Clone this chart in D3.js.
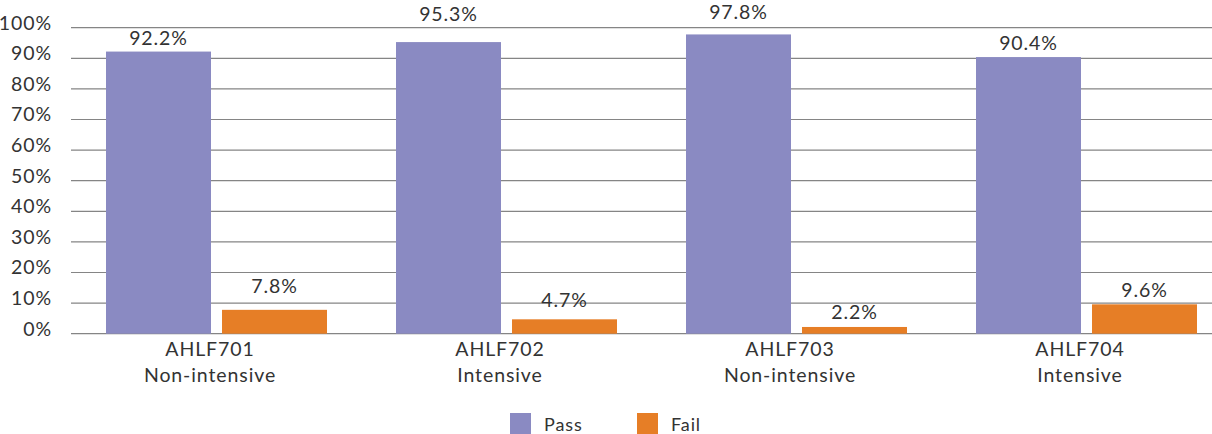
<!DOCTYPE html>
<html>
<head>
<meta charset="utf-8">
<script src="https://cdn.jsdelivr.net/npm/d3@7"></script>
<style>
  html, body { margin: 0; padding: 0; background: #fff; }
  svg { display: block; }
  text { font-family: Lato, "Open Sans", sans-serif; fill: #333; letter-spacing: 0.9px; }
</style>
</head>
<body>
<svg id="chart" width="1212" height="434"></svg>
<script>
// Course codes and delivery modes (two-line axis labels)
const courses = ["AHLF701", "AHLF702", "AHLF703", "AHLF704"];
const modes = ["Non-intensive", "Intensive", "Non-intensive", "Intensive"];
const seriesNames = ["Pass", "Fail"];
const passRates = [92.2, 95.3, 97.8, 90.4];
const failRates = [7.8, 4.7, 2.2, 9.6];
const yTicks = [0, 10, 20, 30, 40, 50, 60, 70, 80, 90, 100];

// Vertical lift (px) of each value label above its bar
const labelLift = { Pass: [7, 21, 15, 7], Fail: [17, 12, 8, 7] };
const colors = { Pass: "#8a8ac2", Fail: "#e67e26" };

const svg = d3.select("#chart");
const W = 1212;

const y = d3.scaleLinear().domain([0, 100]).range([333.7, 27.7]);
const x0 = d3.scaleBand().domain(courses).range([65, 1225]);
const x1 = d3.scaleBand().domain(seriesNames).range([-104, 117]).paddingInner(0.095);

// Gridlines
svg.append("g").selectAll("line")
  .data(yTicks).join("line")
  .attr("x1", 71).attr("x2", W)
  .attr("y1", d => y(d)).attr("y2", d => y(d))
  .attr("stroke", "#858585").attr("stroke-width", 1.2);

// Y tick labels
svg.append("g").selectAll("text")
  .data(yTicks).join("text")
  .attr("x", 52).attr("y", d => y(d) - 3)
  .attr("text-anchor", "end").attr("dominant-baseline", "middle")
  .style("font-size", "19.5px")
  .text(d => d + "%");

const rows = [];
courses.forEach((c, i) => {
  rows.push({ course: c, i, series: "Pass", value: passRates[i] });
  rows.push({ course: c, i, series: "Fail", value: failRates[i] });
});

const cx = d => x0(d.course) + x0.bandwidth() / 2 + x1(d.series);

// Bars
svg.append("g").selectAll("rect")
  .data(rows).join("rect")
  .attr("x", d => cx(d))
  .attr("width", x1.bandwidth())
  .attr("y", d => y(d.value))
  .attr("height", d => y(0) - y(d.value))
  .attr("fill", d => colors[d.series]);

// Value labels
svg.append("g").selectAll("text")
  .data(rows).join("text")
  .attr("x", d => cx(d) + x1.bandwidth() / 2)
  .attr("y", d => y(d.value) - labelLift[d.series][d.i])
  .attr("text-anchor", "middle")
  .style("font-size", "19.5px")
  .text(d => d.value.toFixed(1) + "%");

// Category labels
const cat = svg.append("g").selectAll("text")
  .data(courses).join("text")
  .attr("text-anchor", "middle")
  .style("font-size", "19.5px");
cat.append("tspan")
  .attr("x", d => x0(d) + x0.bandwidth() / 2).attr("y", 355.7)
  .text(d => d);
cat.append("tspan")
  .attr("x", d => x0(d) + x0.bandwidth() / 2).attr("y", 381.7)
  .text((d, i) => modes[i]);

// Legend
const legendX = [510, 637];
const lg = svg.append("g").selectAll("g")
  .data(seriesNames).join("g")
  .attr("transform", (d, i) => `translate(${legendX[i]},413)`);
lg.append("rect").attr("width", 21).attr("height", 21).attr("fill", d => colors[d]);
lg.append("text").attr("x", 34).attr("y", 18)
  .style("font-size", "18px")
  .text(d => d);
</script>
</body>
</html>
